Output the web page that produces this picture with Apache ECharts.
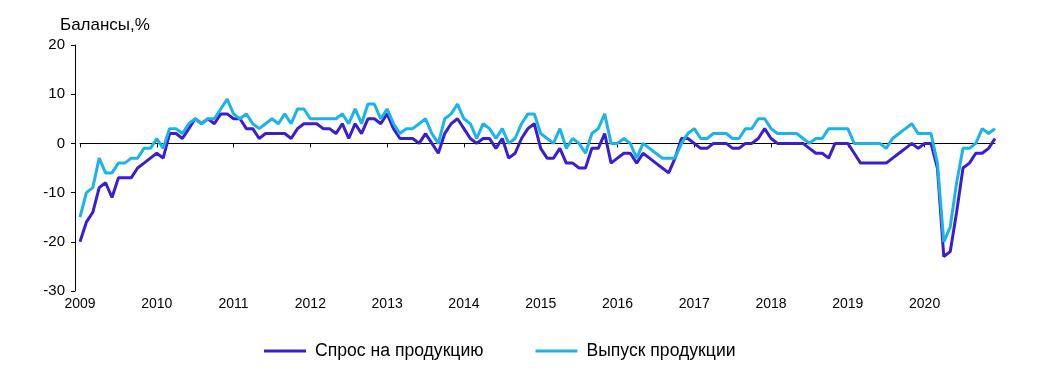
<!DOCTYPE html>
<html>
<head>
<meta charset="utf-8">
<script src="https://cdn.jsdelivr.net/npm/echarts@6/dist/echarts.min.js"></script>
<style>
html,body{margin:0;padding:0;background:#fff;}
#chart{width:1040px;height:381px;}
</style>
</head>
<body>
<div id="chart"></div>
<script>
// ---- data ----
var years = ['2009','2010','2011','2012','2013','2014','2015','2016','2017','2018','2019','2020'];
var months = ['01','02','03','04','05','06','07','08','09','10','11','12'];
var seriesNames = ['Спрос на продукцию', 'Выпуск продукции'];
var yTitle = 'Балансы,%';

var demand = [
  -20,-16,-14,-9,-8,-11,-7,-7,-7,-5,-4,-3,
  -2,-3,2,2,1,3,5,4,5,4,6,6,
  5,5,3,3,1,2,2,2,2,1,3,4,
  4,4,3,3,2,4,1,4,2,5,5,4,
  6,3,1,1,1,0,2,0,-2,2,4,5,
  3,1,0,1,1,-1,1,-3,-2,1,3,4,
  -1,-3,-3,-1,-4,-4,-5,-5,-1,-1,2,-4,
  -3,-2,-2,-4,-2,-3,-4,-5,-6,-3,1,1,
  0,-1,-1,0,0,0,-1,-1,0,0,1,3,
  1,0,0,0,0,0,-1,-2,-2,-3,0,0,
  0,-2,-4,-4,-4,-4,-4,-3,-2,-1,0,-1,
  0,0,-5,-23,-22,-14,-5,-4,-2,-2,-1,1
];

var output = [
  -15,-10,-9,-3,-6,-6,-4,-4,-3,-3,-1,-1,
  1,-1,3,3,2,4,5,4,5,5,7,9,
  6,5,6,4,3,4,5,4,6,4,7,7,
  5,5,5,5,5,6,4,7,4,8,8,5,
  7,4,2,3,3,4,5,2,0,5,6,8,
  5,4,1,4,3,1,3,0,1,4,6,6,
  2,1,0,3,-1,1,0,-2,2,3,6,0,
  0,1,0,-3,0,-1,-2,-3,-3,-3,0,2,
  3,1,1,2,2,2,1,1,3,3,5,5,
  3,2,2,2,2,1,0,1,1,3,3,3,
  3,0,0,0,0,0,-1,1,2,3,4,2,
  2,2,-4,-20,-17,-8,-1,-1,0,3,2,3
];

var yMin = -30, yMax = 20, yStep = 10;

// ---- build ----
var categories = [];
years.forEach(function(y){ months.forEach(function(m){ categories.push(y + '-' + m); }); });

var FONT = '"Liberation Sans", Arial, sans-serif';
var chart = echarts.init(document.getElementById('chart'), null, {renderer:'canvas'});
var yearTick = function(i){ return i % 12 === 0; };

chart.setOption({
  animation: false,
  backgroundColor: '#ffffff',
  title: {
    text: yTitle, left: 60, top: 17, padding: 0,
    textStyle: {fontSize: 17, fontWeight: 'normal', color: '#000', fontFamily: FONT}
  },
  grid: {left: 80, right: 45, top: 45, bottom: 90, containLabel: false},
  legend: {
    data: seriesNames, left: 264, top: 342, padding: 0,
    icon: 'rect', itemWidth: 42, itemHeight: 3, itemGap: 52,
    textStyle: {fontSize: 17.6, color: '#000', fontFamily: FONT, padding: [0, 0, 0, 4]}
  },
  xAxis: [{
    type: 'category', data: categories, boundaryGap: false, position: 'bottom',
    axisLine: {show: false, onZero: false},
    axisTick: {show: false},
    splitLine: {show: false},
    axisLabel: {
      interval: yearTick, margin: 6, fontSize: 14, color: '#000', fontFamily: FONT,
      formatter: function(v){ return v.slice(0,4); }
    }
  }, {
    type: 'category', data: categories, boundaryGap: false, position: 'top',
    axisLine: {show: true, onZero: true, onZeroAxisIndex: 0, lineStyle: {color: '#000', width: 1}},
    axisTick: {show: true, inside: true, length: 4, interval: yearTick, lineStyle: {color: '#000'}},
    axisLabel: {show: false},
    splitLine: {show: false}
  }],
  yAxis: {
    type: 'value', min: yMin, max: yMax, interval: yStep, offset: 5,
    axisLine: {show: true, lineStyle: {color: '#000', width: 1}},
    axisTick: {show: true, length: 4, lineStyle: {color: '#000'}},
    splitLine: {show: false},
    axisLabel: {margin: 10, fontSize: 15, color: '#000', fontFamily: FONT}
  },
  series: [{
    name: seriesNames[0], type: 'line', data: demand, xAxisIndex: 0,
    showSymbol: false, symbol: 'none',
    itemStyle: {color: '#3a1fd1'},
    lineStyle: {color: '#3a1fd1', width: 3}
  }, {
    name: seriesNames[1], type: 'line', data: output, xAxisIndex: 0,
    showSymbol: false, symbol: 'none',
    itemStyle: {color: '#1ab4e8'},
    lineStyle: {color: '#1ab4e8', width: 3}
  }]
});
</script>
</body>
</html>
